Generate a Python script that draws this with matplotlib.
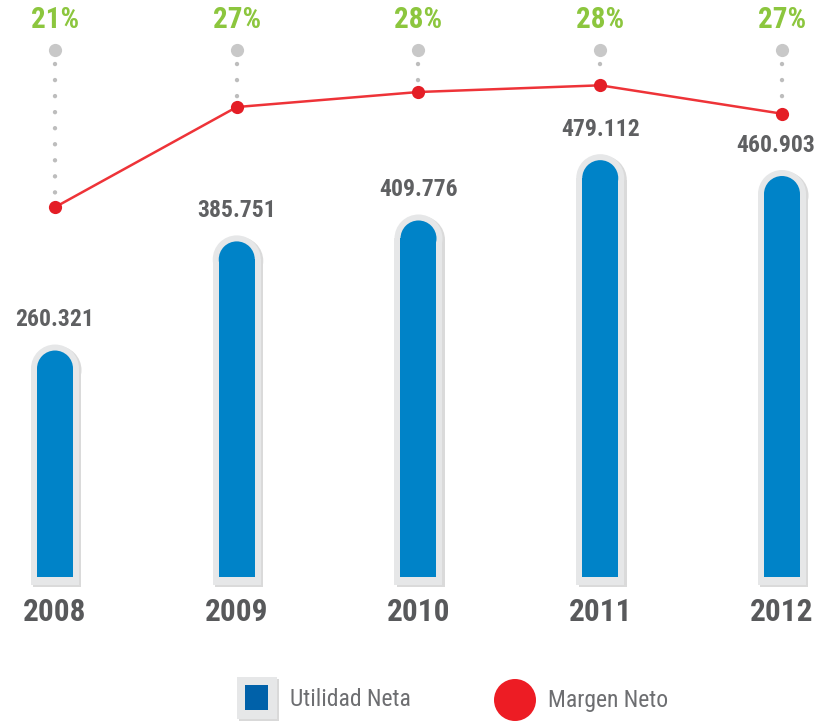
import os
import matplotlib
matplotlib.use('Agg')
import matplotlib.pyplot as plt
import matplotlib.transforms as mtransforms
from matplotlib.patches import Rectangle, Ellipse
from matplotlib import font_manager
from matplotlib.font_manager import FontProperties

years = ['2008', '2009', '2010', '2011', '2012']
utilidad = [260.321, 385.751, 409.776, 479.112, 460.903]
utilidad_labels = ['260.321', '385.751', '409.776', '479.112', '460.903']
margen = [21.2, 27.2, 28.1, 28.5, 26.8]
margen_labels = ['21%', '27%', '28%', '28%', '27%']
legend_labels = ['Utilidad Neta', 'Margen Neto']


def find_condensed(bold):
    prefs = ['liberation', 'roboto', 'open', 'noto sans', 'dejavu', 'lato', 'inter']
    best = None
    for f in font_manager.fontManager.ttflist:
        nm = f.name.lower()
        fn = os.path.basename(f.fname).lower()
        cond = ('condensed' in nm or 'narrow' in nm or 'condensed' in fn or 'narrow' in fn
                or f.stretch in ('condensed', 'semi-condensed'))
        if not cond:
            continue
        if any(k in fn for k in ('extra', 'ultra', 'semi', 'italic', 'oblique', 'light', 'thin', 'black', 'medium')):
            continue
        if f.style != 'normal':
            continue
        w = f.weight if isinstance(f.weight, int) else {'bold': 700, 'normal': 400, 'regular': 400}.get(str(f.weight), 400)
        if bold and w != 700:
            continue
        if not bold and w != 400:
            continue
        rank = len(prefs)
        for i, p in enumerate(prefs):
            if p in nm:
                rank = i
                break
        if best is None or rank < best[0]:
            best = (rank, f.fname)
    return best[1] if best else None


fb = find_condensed(True)
fr = find_condensed(False)


def fp(size, bold):
    path = fb if bold else fr
    if path:
        return FontProperties(fname=path, size=size)
    return FontProperties(family='DejaVu Sans', size=size * 0.85,
                          weight='bold' if bold else 'normal')


W, H = 817, 723
fig = plt.figure(figsize=(W / 100, H / 100), dpi=100)
ax = fig.add_axes([0, 0, 1, 1])
ax.set_xlim(-0.3026, 4.1926)
ax.set_ylim(-167.8, 663.2)
ax.axis('off')

xpx = (4.1926 + 0.3026) / W
ypx = (663.2 + 167.8) / H

blue_w = 36 * xpx
gray_w = 48 * xpx
r_blue = 18 * ypx
r_gray = 24 * ypx

shadow_tr = ax.transData + mtransforms.ScaledTranslation(2.5 / 100, -1.5 / 100, fig.dpi_scale_trans)

xs = list(range(len(years)))
for x, v in zip(xs, utilidad):
    cy = v - r_blue
    ax.add_patch(Rectangle((x - gray_w / 2, -8 * ypx), gray_w, cy + 8 * ypx,
                           facecolor='#dadada', edgecolor='none', transform=shadow_tr, zorder=1))
    ax.add_patch(Ellipse((x, cy), gray_w, 2 * r_gray, facecolor='#dadada',
                         edgecolor='none', transform=shadow_tr, zorder=1))
    ax.add_patch(Rectangle((x - gray_w / 2, -8 * ypx), gray_w, cy + 8 * ypx,
                           facecolor='#e6e7e8', edgecolor='none', zorder=2))
    ax.add_patch(Ellipse((x, cy), gray_w, 2 * r_gray, facecolor='#e6e7e8',
                         edgecolor='none', zorder=2))
    ax.add_patch(Rectangle((x - blue_w / 2, 0), blue_w, cy,
                           facecolor='#0083c8', edgecolor='none', zorder=3))
    ax.add_patch(Ellipse((x, cy), blue_w, 2 * r_blue, facecolor='#0083c8',
                         edgecolor='none', zorder=3))

value_texts = []
for x, v, lab in zip(xs, utilidad, utilidad_labels):
    t = ax.annotate(lab, (x, v), xytext=(0, 22), textcoords='offset points',
                    ha='center', va='center', fontproperties=fp(17, True),
                    color='#5f6062', zorder=5)
    value_texts.append(t)

ytrans = mtransforms.blended_transform_factory(ax.transData, ax.transAxes)
for x, lab in zip(xs, years):
    ax.text(x, 1 - 612 / H, lab, transform=ytrans, ha='center', va='center',
            fontproperties=fp(22.5, True), color='#58595b')

ax2 = fig.add_axes([0, 0, 1, 1], sharex=ax)
ax2.patch.set_visible(False)
y0, y1 = -9.69, 33.61
ax2.set_ylim(y0, y1)
ax2.axis('off')
gy = y1 - (y1 - y0) * 50 / H
dot_top = y1 - (y1 - y0) * 64 / H
for x, m in zip(xs, margen):
    ax2.plot([x, x], [dot_top, m + (y1 - y0) * 8 / H], color='#bdbdbd', lw=3.2,
             linestyle=(0, (0.01, 3.6)), dash_capstyle='round', zorder=2)
ax2.plot(xs, [gy] * len(xs), 'o', ms=9.5, color='#c8c8c8', mec='none', zorder=3)
ax2.plot(xs, margen, '-', color='#ee3338', lw=1.8, zorder=4)
ax2.plot(xs, margen, 'o', ms=9.5, color='#e41e26', mec='none', zorder=5)
ptrans = mtransforms.blended_transform_factory(ax2.transData, ax2.transAxes)
for x, lab in zip(xs, margen_labels):
    ax2.text(x, 1 - 20 / H, lab, transform=ptrans, ha='center', va='center',
             fontproperties=fp(21, True), color='#8cc63e')


def fx(px):
    return px / W


def fy(py):
    return 1 - py / H


fig.patches.append(Rectangle((fx(239), fy(721)), fx(40), 42 / H, transform=fig.transFigure,
                             facecolor='#d9d9d9', edgecolor='none', zorder=1))
fig.patches.append(Rectangle((fx(237), fy(719)), fx(40), 42 / H, transform=fig.transFigure,
                             facecolor='#e6e7e8', edgecolor='none', zorder=2))
fig.patches.append(Rectangle((fx(245), fy(710)), fx(23), 25 / H, transform=fig.transFigure,
                             facecolor='#0061a9', edgecolor='none', zorder=3))
fig.text(fx(290), fy(700), legend_labels[0], ha='left', va='center',
         fontproperties=fp(17, False), color='#6d6e71')
fig.patches.append(Ellipse((fx(515), fy(700)), fx(42), 42 / H, transform=fig.transFigure,
                           facecolor='#ed1c24', edgecolor='none', zorder=3))
fig.text(fx(548), fy(700), legend_labels[1], ha='left', va='center',
         fontproperties=fp(17, False), color='#6d6e71')

# keep value labels inside the figure
fig.canvas.draw()
renderer = fig.canvas.get_renderer()
for t in value_texts:
    bb = t.get_window_extent(renderer)
    over = bb.x1 - (W - 2)
    if over > 0:
        ox, oy = t.xyann
        t.xyann = (ox - over * 72 / 100, oy)

fig.savefig('out.png', dpi=100)
